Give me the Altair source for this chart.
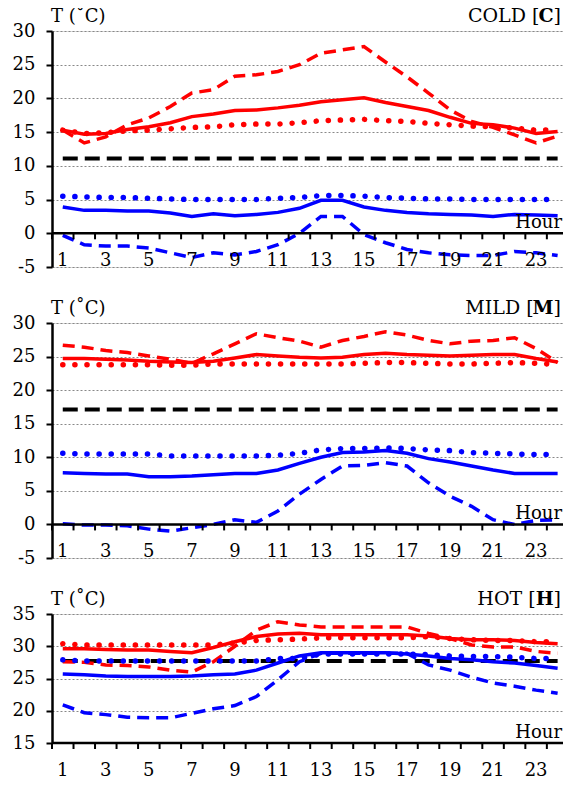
import altair as alt
import pandas as pd

hours = list(range(1, 25))
tick_hours = [h + 0.5 for h in range(0, 24)]
label_hours = list(range(1, 24, 2))

# COLD
cold_red_dash = [15.3,13.4,14.3,16.1,17.1,18.8,20.8,21.3,23.3,23.5,24.0,25.0,26.7,27.2,27.7,25.4,23.2,20.8,18.3,16.6,15.7,14.6,13.4,14.4]
cold_red_solid = [15.3,14.7,14.8,15.4,15.8,16.4,17.3,17.7,18.2,18.3,18.6,19.0,19.5,19.8,20.1,19.4,18.8,18.2,17.2,16.3,16.1,15.6,14.8,15.1]
cold_red_dot = [15.3,14.8,14.9,15.2,15.3,15.5,15.7,15.8,16.1,16.2,16.2,16.4,16.7,16.8,16.9,16.7,16.6,16.3,16.1,15.9,15.8,15.6,15.3,15.3]
cold_blue_dot = [5.5,5.4,5.3,5.3,5.2,5.1,5.0,5.0,5.0,5.0,5.2,5.3,5.6,5.6,5.5,5.3,5.2,5.1,5.1,5.0,5.0,5.0,5.0,5.0]
cold_blue_solid = [3.9,3.4,3.4,3.3,3.3,3.0,2.5,2.9,2.6,2.8,3.1,3.7,4.9,4.9,3.9,3.4,3.1,2.9,2.8,2.7,2.5,2.8,2.7,2.6]
cold_blue_dash = [-0.3,-1.7,-1.9,-1.9,-2.2,-2.9,-3.6,-2.9,-3.2,-2.7,-1.7,0.0,2.5,2.5,-0.2,-1.4,-2.4,-2.9,-3.2,-3.3,-3.3,-2.7,-2.9,-3.3]
cold_black = 11.1

# MILD
mild_red_dash = [26.7,26.4,25.9,25.6,25.1,24.6,24.0,25.4,26.9,28.4,27.8,27.3,26.4,27.4,28.0,28.7,28.2,27.4,26.9,27.3,27.4,27.8,26.2,24.1]
mild_red_solid = [24.7,24.7,24.6,24.5,24.3,24.2,24.1,24.3,24.8,25.3,25.1,24.9,24.8,24.9,25.3,25.5,25.3,25.2,25.1,25.2,25.3,25.3,24.7,24.2]
mild_red_dot = [23.8,23.8,23.8,23.8,23.8,23.7,23.7,23.9,23.9,23.9,23.9,23.9,23.9,23.9,24.0,24.1,24.1,24.0,23.9,23.9,24.0,24.1,24.0,23.8]
mild_blue_dot = [10.6,10.5,10.5,10.5,10.5,10.2,10.2,10.2,10.2,10.2,10.3,10.6,11.1,11.3,11.3,11.4,11.3,11.1,11.0,10.7,10.6,10.5,10.4,10.4]
mild_blue_solid = [7.7,7.6,7.5,7.5,7.1,7.1,7.2,7.4,7.6,7.6,8.1,9.1,10.0,10.7,10.8,11.0,10.6,9.8,9.3,8.7,8.1,7.6,7.6,7.6]
mild_blue_dash = [0.1,-0.1,-0.1,-0.2,-0.7,-1.0,-0.5,0.0,0.7,0.3,2.0,4.5,6.7,8.7,8.8,9.2,8.7,6.2,4.2,2.7,0.7,0.0,0.6,0.7]
mild_black = 17.1

# HOT
hot_red_dot = [30.4,30.2,30.2,30.2,30.2,30.2,30.2,30.2,30.5,30.9,31.0,31.1,31.3,31.3,31.3,31.3,31.3,31.5,31.2,31.0,30.9,30.9,30.7,30.7]
hot_red_solid = [29.6,29.6,29.5,29.4,29.4,29.2,29.0,29.8,30.7,31.5,31.9,32.0,31.8,31.8,31.8,31.8,31.8,31.6,31.2,31.0,31.0,30.9,30.6,30.4]
hot_red_dash = [27.6,27.5,27.1,27.0,26.8,26.3,26.0,27.6,30.0,32.5,33.8,33.3,33.0,33.0,33.0,33.0,33.0,32.0,31.2,30.2,29.9,29.9,29.2,28.9]
hot_blue_dot = [27.9,27.7,27.7,27.7,27.7,27.7,27.7,27.7,27.7,27.7,28.1,28.1,28.8,28.8,28.8,28.8,28.8,28.7,28.5,28.4,28.4,28.3,28.1,28.1]
hot_blue_solid = [25.7,25.6,25.4,25.3,25.3,25.3,25.4,25.6,25.7,26.3,27.4,28.5,29.0,29.0,29.0,29.0,28.8,28.5,28.1,27.9,27.6,27.4,27.0,26.6]
hot_blue_dash = [20.9,19.7,19.4,19.0,18.9,18.9,19.6,20.3,20.8,22.2,24.8,27.6,28.9,28.9,28.9,28.9,28.9,27.1,26.3,25.2,24.3,23.8,23.2,22.7]
hot_black = 27.7

RED = "#FF0000"
BLUE = "#0000FF"
FONT = "DejaVu Serif"
W = 511
XDOM = [0.5, 24.25]


def panel(name, letter, letter_w, series, black, ydom, yticks, h, axis_at, label_dy):
    rows = []
    for key, (vals, color, style) in series.items():
        for hr, v in zip(hours, vals):
            rows.append({"hour": hr, "temp": v, "series": key, "color": color, "style": style})
    df = pd.DataFrame(rows)
    xs = alt.Scale(domain=XDOM, nice=False, zero=False)
    x = alt.X("hour:Q", scale=xs, axis=None)
    yscale = alt.Scale(domain=ydom, nice=False, zero=False)
    yaxis = alt.Axis(values=yticks, grid=True, gridDash=[2, 2], gridColor="#888888", gridWidth=1,
                     domainColor="black", domainWidth=2.5, tickColor="black", tickWidth=2,
                     tickSize=6, labelFont=FONT, labelFontSize=18, labelColor="black",
                     labelPadding=11, title=None,
                     labelExpr="datum.value < 0 ? '-' + abs(datum.value) : datum.label")
    y = alt.Y("temp:Q", scale=yscale, axis=yaxis)

    base = alt.Chart(df).encode(x=x, y=y, color=alt.Color("color:N", scale=None), detail="series:N")
    solid = base.transform_filter(alt.datum.style == "solid").mark_line(strokeWidth=3.5)
    dashed = base.transform_filter(alt.datum.style == "dash").mark_line(strokeWidth=3.5, strokeDash=[12, 7])
    dotted = base.transform_filter(alt.datum.style == "dot").mark_line(strokeWidth=5.5, strokeDash=[0.1, 12], strokeCap="round")

    bdf = pd.DataFrame({"x1": [1], "x2": [24], "v": [black]})
    blk = alt.Chart(bdf).mark_rule(color="black", strokeWidth=4, strokeDash=[15, 7]).encode(
        x=alt.X("x1:Q", scale=xs, axis=None), x2="x2:Q", y=alt.Y("v:Q", scale=yscale, axis=yaxis))

    adf = pd.DataFrame({"x1": [XDOM[0]], "x2": [XDOM[1]], "v": [axis_at]})
    axis_line = alt.Chart(adf).mark_rule(color="black", strokeWidth=2.5).encode(
        x=alt.X("x1:Q", scale=xs, axis=None), x2="x2:Q", y=alt.Y("v:Q", scale=yscale, axis=yaxis))

    tdf = pd.DataFrame({"t": tick_hours, "v": [axis_at] * len(tick_hours)})
    ticks = alt.Chart(tdf).mark_rule(color="black", strokeWidth=2, y2Offset=6).encode(
        x=alt.X("t:Q", scale=xs, axis=None), y=alt.Y("v:Q", scale=yscale, axis=yaxis), y2="v:Q")

    ldf = pd.DataFrame({"t": label_hours, "v": [axis_at] * len(label_hours),
                        "lab": [str(v) for v in label_hours]})
    labels = alt.Chart(ldf).mark_text(font=FONT, fontSize=18, color="black", baseline="alphabetic",
                                      align="center", dy=label_dy).encode(
        x=alt.X("t:Q", scale=xs, axis=None), y=alt.Y("v:Q", scale=yscale, axis=yaxis), text="lab:N")

    hdf = pd.DataFrame({"v": [axis_at], "lab": ["Hour"]})
    hour_txt = alt.Chart(hdf).mark_text(font=FONT, fontSize=18, color="black", baseline="alphabetic",
                                        align="right", dy=-5).encode(
        x=alt.value(W - 1), y=alt.Y("v:Q", scale=yscale, axis=yaxis), text="lab:N")

    one = alt.Data(values=[{}])
    ttl = alt.Chart(one).mark_text(font=FONT, fontSize=18, color="black", baseline="alphabetic",
                                   align="left", text="T (˚C)").encode(x=alt.value(-1), y=alt.value(-9))
    close_w = 7.4
    t1 = alt.Chart(one).mark_text(font=FONT, fontSize=19, color="black", baseline="alphabetic",
                                  align="right", text="]").encode(x=alt.value(W - 2), y=alt.value(-9))
    t2 = alt.Chart(one).mark_text(font=FONT, fontSize=19, color="black", baseline="alphabetic",
                                  align="right", fontWeight="bold", text=letter).encode(
        x=alt.value(W - 2 - close_w), y=alt.value(-9))
    t3 = alt.Chart(one).mark_text(font=FONT, fontSize=19, color="black", baseline="alphabetic",
                                  align="right", text=name + " [").encode(
        x=alt.value(W - 2 - close_w - letter_w), y=alt.value(-9))

    return alt.layer(blk, solid, dashed, dotted, axis_line, ticks, labels, hour_txt, ttl, t1, t2, t3).properties(
        width=W, height=h)


p1 = panel("COLD", "C", 14.2, {
    "rd": (cold_red_dash, RED, "dash"), "rs": (cold_red_solid, RED, "solid"), "ro": (cold_red_dot, RED, "dot"),
    "bo": (cold_blue_dot, BLUE, "dot"), "bs": (cold_blue_solid, BLUE, "solid"), "bd": (cold_blue_dash, BLUE, "dash"),
}, cold_black, [-5, 30], [-5, 0, 5, 10, 15, 20, 25, 30], 236, 0, 33)

p2 = panel("MILD", "M", 20.0, {
    "rd": (mild_red_dash, RED, "dash"), "rs": (mild_red_solid, RED, "solid"), "ro": (mild_red_dot, RED, "dot"),
    "bo": (mild_blue_dot, BLUE, "dot"), "bs": (mild_blue_solid, BLUE, "solid"), "bd": (mild_blue_dash, BLUE, "dash"),
}, mild_black, [-5, 30], [-5, 0, 5, 10, 15, 20, 25, 30], 235, 0, 33)

p3 = panel("HOT", "H", 18.0, {
    "rd": (hot_red_dash, RED, "dash"), "rs": (hot_red_solid, RED, "solid"), "ro": (hot_red_dot, RED, "dot"),
    "bo": (hot_blue_dot, BLUE, "dot"), "bs": (hot_blue_solid, BLUE, "solid"), "bd": (hot_blue_dash, BLUE, "dash"),
}, hot_black, [15, 35], [15, 20, 25, 30, 35], 129, 15, 33)

chart = alt.vconcat(p1, p2, p3, spacing=56, bounds="flush").configure_view(stroke=None).configure(
    padding={"left": 44, "top": 23, "right": 0, "bottom": 748}, background="white",
    autosize=alt.AutoSizeParams(type="none"))

chart.save("out.html", embed_options={"renderer": "svg", "actions": False})
